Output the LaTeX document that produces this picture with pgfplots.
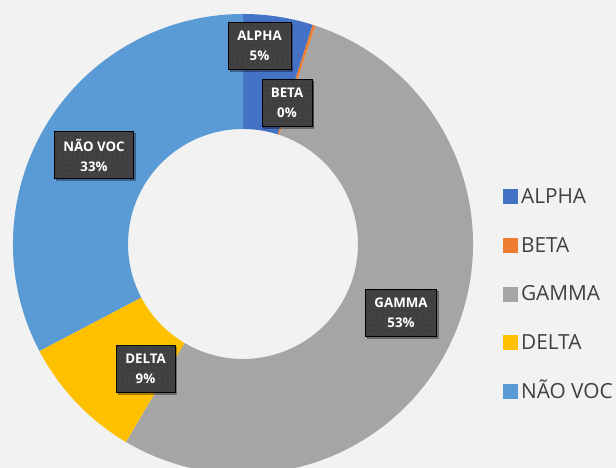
\documentclass[border=0pt]{standalone}
\usepackage{fontspec}
\setmainfont{Open Sans}
\usepackage{pgfplots}
\pgfplotsset{compat=1.18}
\usepackage{pgfplotstable}
\usetikzlibrary{patterns.meta, shadows}

\definecolor{alphacol}{HTML}{4472C4}
\definecolor{betacol}{HTML}{ED7D31}
\definecolor{gammacol}{HTML}{A5A5A5}
\definecolor{deltacol}{HTML}{FFC000}
\definecolor{naocol}{HTML}{5B9BD5}
\definecolor{bgcol}{HTML}{F2F2F2}
\definecolor{boxcol}{HTML}{404040}
\definecolor{dotcol}{HTML}{5A5A5A}
\definecolor{legtext}{HTML}{404040}

\pgfplotstableread[col sep=comma]{
name,value,col
ALPHA,4.9,alphacol
BETA,0.2,betacol
GAMMA,53.4,gammacol
DELTA,8.8,deltacol
NÃO VOC,32.7,naocol
}\segtable

\pgfplotstableread[col sep=comma]{
name,pct,x,y
ALPHA,5,259.5,422
BETA,0,287,365
GAMMA,53,401,155
DELTA,9,145.5,99
NÃO VOC,33,94,313
}\labtable

\pgfplotsset{sq/.style={legend image code/.code={\fill[#1] (0bp,-7bp) rectangle (14bp,7bp);}}}

\begin{document}
\begin{tikzpicture}
\begin{axis}[
  x=1bp, y=1bp,
  xmin=0, xmax=616, ymin=0, ymax=468,
  hide axis, clip=true,
  legend cell align=left,
  legend style={at={(axis cs:503,279)}, anchor=north west, draw=none, fill=none,
    font=\fontsize{20.8bp}{20.8bp}\selectfont, text=legtext, inner sep=0pt,
    row sep=34.3bp,
    nodes={inner xsep=3.5bp, inner ysep=0pt, text height=14bp, text depth=0bp}},
]
\fill[bgcol] (axis cs:0,0) rectangle (axis cs:616,468);
\coordinate (ll) at (axis cs:0,0);
\coordinate (ur) at (axis cs:616,468);

\pgfmathsetmacro\cum{0}
\pgfplotsforeachungrouped \i in {0,...,4}{%
  \pgfplotstablegetelem{\i}{value}\of\segtable
  \let\segv\pgfplotsretval
  \pgfplotstablegetelem{\i}{col}\of\segtable
  \let\segc\pgfplotsretval
  \pgfmathsetmacro\sa{90-3.6*\cum}%
  \pgfmathsetmacro\cum{\cum+\segv}%
  \pgfmathsetmacro\se{90-3.6*\cum}%
  \edef\dofill{\noexpand\fill[\segc] (axis cs:243,224) ++(\sa:230bp) arc[start angle=\sa, end angle=\se, radius=230bp] -- ++(\se:-115bp) arc[start angle=\se, end angle=\sa, radius=115bp] -- cycle;}%
  \dofill
}

\addplot[only marks, mark=none, forget plot,
  point meta=explicit symbolic,
  visualization depends on={\thisrow{pct}\as\lpct},
  nodes near coords={\pgfplotspointmeta\\\pgfmathprintnumber[fixed,precision=0,assume math mode=true]{\lpct}\%},
  every node near coord/.append style={anchor=center, xshift=0pt, yshift=0pt,
    fill=boxcol, text=white, align=center,
    font=\bfseries\fontsize{13.3bp}{20bp}\selectfont,
    inner xsep=9bp, inner ysep=0pt, minimum height=47bp,
    drop shadow={shadow xshift=1.5bp, shadow yshift=-1.5bp, opacity=0.35, fill=black},
    postaction={pattern={Dots[distance=5bp, radius=0.6bp]}, pattern color=dotcol}},
] table[x=x, y=y, meta=name, col sep=comma] {\labtable};

\addlegendimage{sq=alphacol}\addlegendentry{ALPHA}
\addlegendimage{sq=betacol}\addlegendentry{BETA}
\addlegendimage{sq=gammacol}\addlegendentry{GAMMA}
\addlegendimage{sq=deltacol}\addlegendentry{DELTA}
\addlegendimage{sq=naocol}\addlegendentry{NÃO VOC}
\end{axis}
\pgfresetboundingbox
\useasboundingbox (ll) rectangle (ur);
\end{tikzpicture}
\end{document}
